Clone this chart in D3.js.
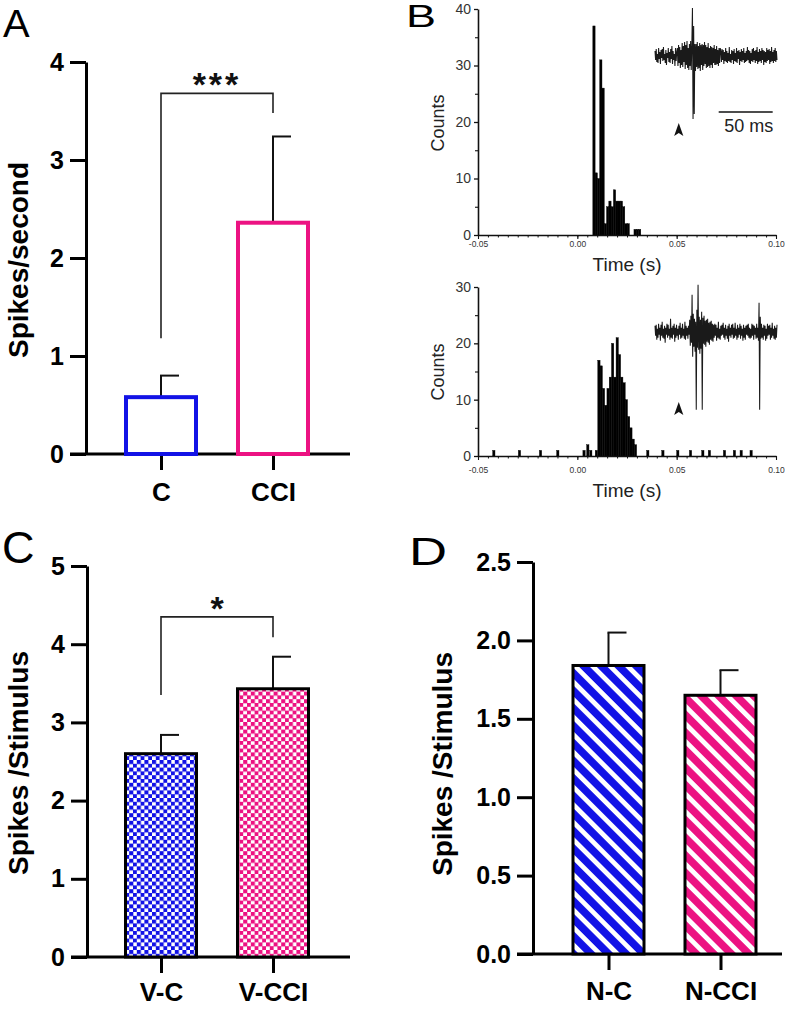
<!DOCTYPE html>
<html><head><meta charset="utf-8">
<script src="https://cdn.jsdelivr.net/npm/d3@7"></script>
<style>
body{margin:0;background:#fff}
svg{display:block}
text{font-family:Arial,"Liberation Sans",Helvetica,sans-serif}
</style>
</head><body>
<svg id="fig" width="787" height="1010"></svg>
<script>
// ---------------- DATA ----------------
// Panel A
const catsA = ["C", "CCI"];
const meanA = [0.58, 2.36];
const semA  = [0.22, 0.88];
const ticksA = [0, 1, 2, 3, 4];
const bracketA = [1.18, 3.68, 3.48]; // left start, top, right end
const sigA = "***";
// Panel C
const catsC = ["V-C", "V-CCI"];
const meanC = [2.60, 3.43];
const semC  = [0.24, 0.41];
const ticksC = [0, 1, 2, 3, 4, 5];
const bracketC = [3.35, 4.35, 4.09];
const sigC = "*";
// Panel D
const catsD = ["N-C", "N-CCI"];
const meanD = [1.84, 1.65];
const semD  = [0.21, 0.16];
const ticksD = [0, 0.5, 1.0, 1.5, 2.0, 2.5];
// Panel B histograms (bin start in s, counts)
const binWidthB = 0.00115;
const hist1T = [0.00780,0.00895,0.01010,0.01125,0.01240,0.01355,0.01470,0.01585,0.01700,0.01815,0.01930,0.02045,0.02160,0.02275,0.02390,0.02505,0.02620,0.02735,0.02850,0.02965,0.03080];
const hist1C = [37,11,10,31,26,2,5,6,5,8,6,6,6,5,2,2,0,0,1,1,1];
const hist2T = [-0.0426,-0.0297,-0.0191,-0.0104,0.0028,0.0047,0.0062,0.0090,
  0.01030,0.01145,0.01260,0.01375,0.01490,0.01605,0.01720,0.01835,0.01950,0.02065,0.02180,0.02295,0.02410,0.02525,0.02640,0.02755,0.02870,
  0.0349,0.0425,0.0500,0.0564,0.0626,0.0659,0.0735,0.0785,0.0819,0.0869];
const hist2C = [1,1,1,1,1,2,1,1,
  17,16,12,9,12,14,20,14,21,18,14,13,10,7,5,3,2,
  1,1,1,1,1,1,1,1,1,1];
const histTicksX = [-0.05, 0.00, 0.05, 0.10];
const hist1TicksY = [0, 10, 20, 30, 40];
const hist1MinorY = [5, 15, 25, 35];
const hist2TicksY = [0, 10, 20, 30];
const hist2MinorY = [5, 15, 25];
// Inset traces (arbitrary units), sweep duration in ms
const traceDur = 113;
const stimMs = 22;
const scaleBarMs = [59, 109];
const trace1 = [5,-4,7,-6,2,-7,8,-3,4,-8,6,-2,7,-5,9,-4,2,-7,6,-9,3,-2,8,-6,4,-7,7,-3,10,-8,5,-4,2,-10,8,-5,4,
  8,-10,11,-7,9,-12,6,-9,13,-11,10,-6,14,-13,11,-9,15,-12,8,-14,12,-10,15,-14,11,
  48,-63,30,-58,12,
  -15,12,-11,14,-13,10,-12,13,-15,11,-9,12,-14,11,-10,14,-8,11,-12,9,-11,13,-10,8,-12,10,-9,9,-12,8,-7,11,-9,7,-9,10,-8,6,-10,8,-7,8,
  5,-6,7,-4,6,-8,4,-5,8,-6,5,-7,3,-5,9,-6,2,-7,6,-4,5,-8,7,-5,3,-6,8,-7,5,-3,6,-9,4,-5,7,-6,5,-4,8,-7,3,-6,5,-5,9,-4,6,-7,5,-8,3,-5,7,-6,8,-4,5,-7,6,-5,9,-8,4,-6,7,-5,5,-7,8,-4,6,-9,5,-6,4,-7,8,-5,6,-4,7,-8,5,-6,9,-5,4,-7,6,-5,8,-6,5,-4];
const trace2 = [6,-4,7,-8,3,-6,8,-3,4,-9,7,-4,10,-6,3,-7,6,-11,4,-3,8,-6,7,-4,3,-8,13,-6,4,-7,6,-3,8,-10,4,-6,7,-4,3,-8,6,-3,9,-7,4,-6,8,-4,3,-7,10,-8,6,-4,4,-7,6,-3,
  12,-14,16,-11,37,-25,18,-15,13,-20,10,-78,22,-16,47,-18,15,-22,12,-17,20,-78,14,-12,16,-13,11,-15,12,-10,13,-11,9,-13,10,-8,11,-9,8,-10,7,
  -6,8,-4,7,-9,4,-6,10,-7,3,-8,6,-4,7,-3,9,-6,4,-8,7,-4,3,-7,6,-10,8,-4,4,-6,7,-3,8,-7,4,-6,9,-4,3,-8,7,-6,4,-3,8,-7,6,-4,3,-9,7,-6,4,-8,6,-3,7,-4,8,-6,4,-7,3,-6,8,-4,7,-8,6,-3,4,-7,8,-6,4,-9,
  29,-78,15,
  -7,8,-6,4,-8,7,-4,6,-9,3,-7,8,-4,6,-3,7,-8,4,-6,9,-4,3,-7,6,-8,4,-6,7];

// ---------------- STYLE ----------------
const BLUE = "#1212e6", PINK = "#ec1282";
const svg = d3.select("#fig");
const defs = svg.append("defs");
function checker(id, col) {
  const p = defs.append("pattern").attr("id", id).attr("patternUnits", "userSpaceOnUse")
    .attr("width", 7.6).attr("height", 7.6);
  p.append("rect").attr("width", 7.6).attr("height", 7.6).attr("fill", "#fff");
  p.append("rect").attr("width", 4.1).attr("height", 4.1).attr("fill", col);
  p.append("rect").attr("x", 3.8).attr("y", 3.8).attr("width", 4.1).attr("height", 4.1).attr("fill", col);
}
function stripes(id, col) {
  const p = defs.append("pattern").attr("id", id).attr("patternUnits", "userSpaceOnUse")
    .attr("width", 12.4).attr("height", 12.4).attr("patternTransform", "rotate(-45)");
  p.append("rect").attr("width", 12.4).attr("height", 12.4).attr("fill", "#fff");
  p.append("rect").attr("width", 7.6).attr("height", 12.4).attr("fill", col);
}
checker("chkB", BLUE); checker("chkP", PINK);
stripes("strB", BLUE); stripes("strP", PINK);

function letter(t, x, y, fs, sx) {
  svg.append("text").attr("transform", `translate(${x},${y}) scale(${sx},1)`)
    .attr("font-size", fs).attr("fill", "#000").text(t);
}

function barPanel(o) {
  const g = svg.append("g");
  const y = d3.scaleLinear().domain([0, o.ymax]).range([o.y0, o.y1]);
  const x = d3.scalePoint().domain(o.cats).range(o.centers);
  // y axis
  const ya = g.append("g").attr("transform", `translate(${o.ax},0)`)
    .call(d3.axisLeft(y).tickValues(o.ticks).tickSize(16).tickSizeOuter(0).tickPadding(6).tickFormat(o.fmt));
  ya.select(".domain").attr("stroke", "#000").attr("stroke-width", 3);
  ya.selectAll(".tick line").attr("stroke", "#000").attr("stroke-width", 3);
  ya.selectAll(".tick text").attr("font-size", 25).attr("font-weight", "bold").attr("fill", "#000")
    .attr("font-family", "Arial, 'Liberation Sans', sans-serif");
  // x axis
  const xa = g.append("g").attr("transform", `translate(0,${o.y0})`)
    .call(d3.axisBottom(x).tickSize(16).tickPadding(o.catPad));
  xa.select(".domain").remove();
  xa.selectAll(".tick line").attr("stroke", "#000").attr("stroke-width", 3);
  xa.selectAll(".tick text").attr("font-size", 26).attr("font-weight", "bold").attr("fill", "#000")
    .attr("font-family", "Arial, 'Liberation Sans', sans-serif");
  g.append("line").attr("x1", o.ax - 16).attr("x2", o.xEnd).attr("y1", o.y0).attr("y2", o.y0)
    .attr("stroke", "#000").attr("stroke-width", 3);
  // error bars
  o.cats.forEach((c, i) => {
    const cx = x(c), top = y(o.means[i] + o.sems[i]);
    g.append("line").attr("x1", cx).attr("x2", cx).attr("y1", y(o.means[i])).attr("y2", top)
      .attr("stroke", "#111").attr("stroke-width", 2);
    g.append("line").attr("x1", cx - 1).attr("x2", cx + 18).attr("y1", top).attr("y2", top)
      .attr("stroke", "#111").attr("stroke-width", 2);
  });
  // bars
  g.selectAll("rect.bar").data(o.cats).enter().append("rect").attr("class", "bar")
    .attr("x", c => x(c) - o.bw / 2).attr("width", o.bw)
    .attr("y", (c, i) => y(o.means[i])).attr("height", (c, i) => o.y0 - y(o.means[i]))
    .attr("fill", (c, i) => o.fills[i]).attr("stroke", (c, i) => o.strokes[i])
    .attr("stroke-width", o.sw);
  // bracket
  if (o.bracket) {
    const xl = x(o.cats[0]), xr = x(o.cats[1]);
    g.append("path").attr("d", `M${xl},${y(o.bracket[0])}V${y(o.bracket[1])}H${xr}V${y(o.bracket[2])}`)
      .attr("fill", "none").attr("stroke", "#222").attr("stroke-width", 1.6);
    g.append("text").attr("x", (xl + xr) / 2).attr("y", o.sigY).attr("text-anchor", "middle")
      .attr("font-size", o.sigFs).attr("font-weight", "bold").attr("letter-spacing", o.sigLs)
      .attr("fill", "#111").text(o.sig);
  }
  // y label
  g.append("text").attr("transform", `translate(${o.lx},${o.ly}) rotate(-90)`)
    .attr("text-anchor", "middle").attr("font-size", 28).attr("font-weight", "bold").attr("fill", "#000")
    .text(o.ylabel);
}

// Panel A
barPanel({cats: catsA, means: meanA, sems: semA, ticks: ticksA, ymax: 4, y0: 454, y1: 62,
  centers: [161, 273], ax: 86, xEnd: 350, bw: 70, catPad: 13, fmt: d3.format("d"),
  fills: ["#fff", "#fff"], strokes: [BLUE, PINK], sw: 4,
  bracket: bracketA, sig: sigA, sigY: 96, sigFs: 34, sigLs: 3,
  ylabel: "Spikes/second", lx: 28, ly: 260});
// Panel C
barPanel({cats: catsC, means: meanC, sems: semC, ticks: ticksC, ymax: 5, y0: 957, y1: 566,
  centers: [161, 273], ax: 87, xEnd: 350, bw: 71, catPad: 10, fmt: d3.format("d"),
  fills: ["url(#chkB)", "url(#chkP)"], strokes: ["#000", "#000"], sw: 3,
  bracket: bracketC, sig: sigC, sigY: 620, sigFs: 34, sigLs: 0,
  ylabel: "Spikes /Stimulus", lx: 28, ly: 763});
// Panel D
barPanel({cats: catsD, means: meanD, sems: semD, ticks: ticksD, ymax: 2.5, y0: 954, y1: 562,
  centers: [608.5, 720.5], ax: 533, xEnd: 782, bw: 71, catPad: 12, fmt: d3.format(".1f"),
  fills: ["url(#strB)", "url(#strP)"], strokes: ["#000", "#000"], sw: 3,
  bracket: null, ylabel: "Spikes /Stimulus", lx: 452, ly: 764});

letter("A", 3, 37, 38, 1.05);
letter("C", 2, 563, 45, 1.0);
letter("D", 409, 565, 39, 1.35);
letter("B", 406, 27, 31, 1.45);

// Panel B
const xB = d3.scaleLinear().domain([-0.05, 0.10]).range([478, 776]);
function histPanel(o) {
  const g = svg.append("g");
  const y = d3.scaleLinear().domain([0, o.ymax]).range([o.y0, o.y1]);
  g.selectAll("rect").data(o.ts).enter().append("rect")
    .attr("x", t => xB(t)).attr("width", t => xB(t + binWidthB) - xB(t))
    .attr("y", (t, i) => y(o.cs[i])).attr("height", (t, i) => o.y0 - y(o.cs[i]))
    .attr("fill", "#000").attr("stroke", "#000").attr("stroke-width", 0.4);
  // y axis
  const ya = g.append("g").attr("transform", `translate(${xB(-0.05)},0)`)
    .call(d3.axisLeft(y).tickValues(o.yt).tickSize(4).tickSizeOuter(0).tickPadding(3));
  ya.select(".domain").attr("stroke", "#111").attr("stroke-width", 1.6);
  ya.selectAll(".tick line").attr("stroke", "#111").attr("stroke-width", 1.3);
  ya.selectAll(".tick text").attr("font-size", 14).attr("fill", "#333");
  const ym = g.append("g").attr("transform", `translate(${xB(-0.05)},0)`)
    .call(d3.axisLeft(y).tickValues(o.ym).tickSize(3).tickFormat(""));
  ym.select(".domain").remove();
  ym.selectAll(".tick line").attr("stroke", "#111").attr("stroke-width", 1.1);
  // x axis
  const xa = g.append("g").attr("transform", `translate(0,${o.y0})`)
    .call(d3.axisBottom(xB).tickValues(histTicksX).tickSize(4).tickSizeOuter(0).tickPadding(o.xPad)
      .tickFormat(d => d.toFixed(2)));
  xa.select(".domain").attr("stroke", "#111").attr("stroke-width", 1.6);
  xa.selectAll(".tick line").attr("stroke", "#111").attr("stroke-width", 1.1);
  xa.selectAll(".tick text").attr("font-size", 8.5).attr("fill", "#333");
  const xm = g.append("g").attr("transform", `translate(0,${o.y0})`)
    .call(d3.axisBottom(xB).tickValues(d3.range(-0.05, 0.1001, 0.005)).tickSize(2.5).tickFormat(""));
  xm.select(".domain").remove();
  xm.selectAll(".tick line").attr("stroke", "#111").attr("stroke-width", 1);
  // labels
  g.append("text").attr("x", 627).attr("y", o.timeY).attr("text-anchor", "middle")
    .attr("font-size", 19).attr("fill", "#222").text("Time (s)");
  g.append("text").attr("transform", `translate(444,${o.countsY}) rotate(-90)`).attr("text-anchor", "middle")
    .attr("font-size", 18).attr("fill", "#222").text("Counts");
}
histPanel({ts: hist1T, cs: hist1C, ymax: 40, y0: 235, y1: 9, yt: hist1TicksY, ym: hist1MinorY,
  xPad: 2, timeY: 271, countsY: 123});
histPanel({ts: hist2T, cs: hist2C, ymax: 30, y0: 456, y1: 287, yt: hist2TicksY, ym: hist2MinorY,
  xPad: 7, timeY: 497, countsY: 372});

// Insets
const xT = d3.scaleLinear().domain([0, traceDur]).range([655, 777]);
function inset(tr, yDom, yRange, arrowY) {
  const y = d3.scaleLinear().domain(yDom).range(yRange);
  const step = traceDur / (tr.length - 1);
  const line = d3.line().x((d, i) => xT(i * step)).y(d => y(d));
  svg.append("path").attr("d", line(tr)).attr("fill", "none")
    .attr("stroke", "#1a1a1a").attr("stroke-width", 1.05).attr("stroke-linejoin", "bevel");
  const ax = xT(stimMs);
  svg.append("path").attr("d", `M${ax},${arrowY}L${ax + 4.6},${arrowY + 13}L${ax},${arrowY + 10}L${ax - 4.6},${arrowY + 13}Z`)
    .attr("fill", "#111");
}
inset(trace1, [-70, 50], [126, 6], 123);
inset(trace2, [-80, 50], [411.7, 281.7], 402);
svg.append("line").attr("x1", xT(scaleBarMs[0])).attr("x2", xT(scaleBarMs[1])).attr("y1", 112).attr("y2", 112)
  .attr("stroke", "#111").attr("stroke-width", 1.6);
svg.append("text").attr("x", (xT(scaleBarMs[0]) + xT(scaleBarMs[1])) / 2 + 3).attr("y", 132)
  .attr("text-anchor", "middle").attr("font-size", 18).attr("fill", "#222").text("50 ms");
</script>
</body></html>
